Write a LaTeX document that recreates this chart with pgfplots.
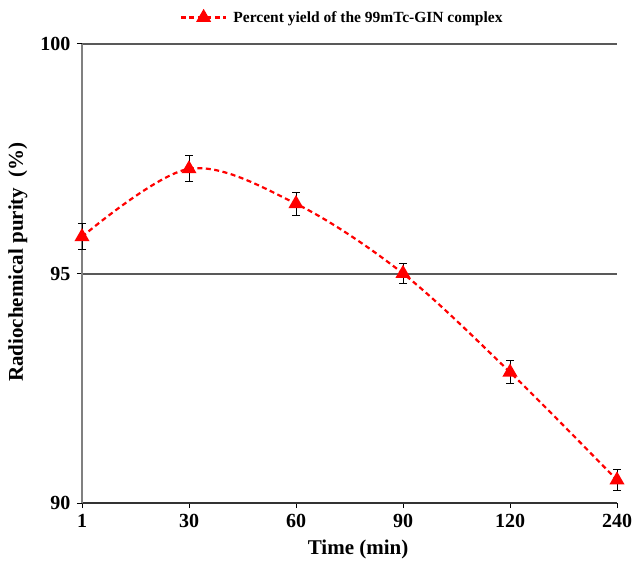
\documentclass[border=0pt]{standalone}
\usepackage{pgfplots}
\pgfplotsset{compat=1.18}
\usepackage{fontspec}
\setmainfont{Liberation Serif}
\begin{document}
\begin{tikzpicture}
\begin{axis}[
  scale only axis,
  width=535pt, height=459pt,
  xmin=0, xmax=5, ymin=90, ymax=100,
  clip=false,
  xtick={0,1,2,3,4,5},
  xticklabels={1,30,60,90,120,240},
  ytick={90,95,100},
  axis x line*=bottom,
  axis y line*=left,
  x axis line style={draw=black!80, line width=1.5pt, -},
  y axis line style={draw=black!50, line width=2pt, -},
  ymajorgrids,
  grid style={draw=black!65, line width=2pt},
  tick style={black, line width=1pt},
  tick align=outside,
  major tick length=5pt,
  ticklabel style={font=\fontsize{20}{22}\selectfont\bfseries},
  xticklabel style={yshift=-3pt},
  yticklabel style={xshift=-3pt},
  /pgf/number format/assume math mode=true,
  xlabel={Time (min)},
  ylabel={Radiochemical purity\ \ (\%)},
  label style={font=\fontsize{21}{23}\selectfont\bfseries},
  xlabel style={at={(axis description cs:0.516,-0.102)}, anchor=center},
  ylabel style={at={(axis description cs:-0.12,0.525)}, anchor=center},
  legend style={at={(0.49,1.035)}, anchor=south, draw=none, fill=none,
    font=\fontsize{15.5}{17}\selectfont\bfseries,
    nodes={inner xsep=6pt}},
  legend cell align=left,
  legend image code/.code={
    \draw[red, dash pattern=on 5pt off 3.5pt, line width=2.2pt] (0cm,0cm) -- (1.6cm,0cm);
    \draw[red, fill=red, solid] plot[mark=triangle*, mark size=6.5pt] coordinates {(0.8cm,0cm)};
  },
]
\addplot[red, dash pattern=on 5pt off 3.5pt, line width=2.2pt, smooth, tension=0.55,
  mark=triangle*, mark size=6.5pt, mark options={solid, fill=red},
  error bars/.cd, y dir=both, y explicit,
  error bar style={black, solid, line width=1pt},
  error mark options={black, solid, rotate=90, mark size=4pt, line width=1pt}]
  coordinates {
  (0,95.8) +- (0,0.28)
  (1,97.28) +- (0,0.28)
  (2,96.52) +- (0,0.25)
  (3,95.0) +- (0,0.22)
  (4,92.85) +- (0,0.25)
  (5,90.5) +- (0,0.22)
  };
\addlegendentry{Percent yield of the 99mTc-GIN complex}
\end{axis}
\pgfresetboundingbox
\path ([shift={(-82pt,-62pt)}]current axis.south west) rectangle ([shift={(16pt,44pt)}]current axis.north east);
\end{tikzpicture}
\end{document}
